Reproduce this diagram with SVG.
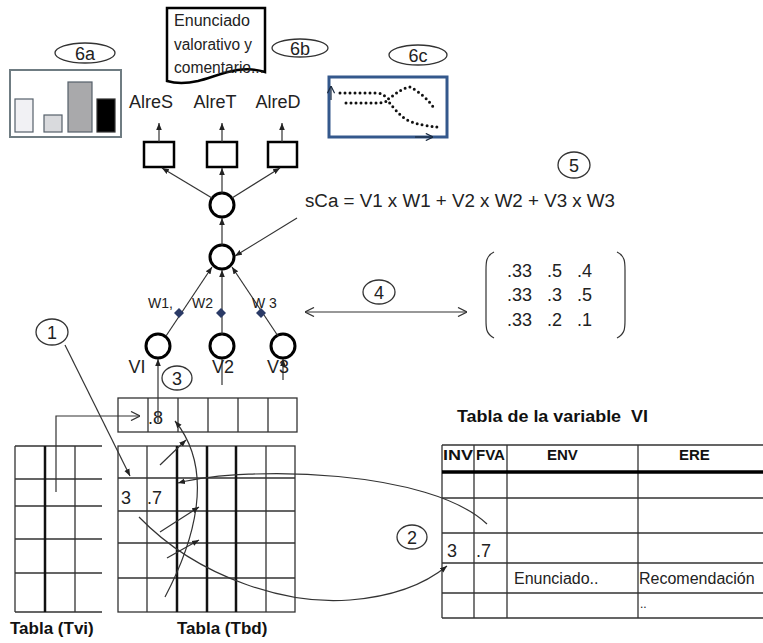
<svg xmlns="http://www.w3.org/2000/svg" width="763" height="643" viewBox="0 0 763 643">
<defs>
<marker id="arr" viewBox="0 0 10 10" refX="10" refY="5" markerWidth="7" markerHeight="7" markerUnits="userSpaceOnUse" orient="auto"><path d="M0,1 L10,5 L0,9 z" fill="#222"/></marker>
<marker id="open" viewBox="0 0 10 10" refX="10" refY="5" markerWidth="10" markerHeight="10" markerUnits="userSpaceOnUse" orient="auto-start-reverse"><path d="M1,0.5 L10,5 L1,9.5" fill="none" stroke="#333" stroke-width="1.3"/></marker>
<marker id="openS" viewBox="0 0 10 10" refX="10" refY="5" markerWidth="8" markerHeight="8" markerUnits="userSpaceOnUse" orient="auto"><path d="M1,0.5 L10,5 L1,9.5" fill="none" stroke="#1a2a40" stroke-width="1.5"/></marker>
</defs>
<style>
.t{font-family:"Liberation Sans",Arial,sans-serif;fill:#222}
.b{font-family:"Liberation Sans",Arial,sans-serif;font-weight:bold;fill:#111}
.ell{fill:#fff;stroke:#333;stroke-width:1.3}
.node{fill:#fff;stroke:#000;stroke-width:3}
.box{fill:#fff;stroke:#000;stroke-width:2.5}
.ln{fill:none;stroke:#333;stroke-width:1.2}
.tk{fill:none;stroke:#111;stroke-width:2.5}
.grid{fill:none;stroke:#333;stroke-width:1.3}
.dot{fill:none;stroke:#111;stroke-width:3;stroke-linecap:round;stroke-dasharray:0 5}
.dia{fill:#2a3a66}
</style>

<!-- 6a chart -->
<g id="chart6a">
<rect x="10" y="70" width="111" height="67" fill="#fff" stroke="#6f7c82" stroke-width="2"/>
<rect x="15" y="99" width="18" height="33" fill="#f1f1f4" stroke="#55606a" stroke-width="1.2"/>
<rect x="44" y="115" width="18" height="17" fill="#d9dadd" stroke="#55606a" stroke-width="1.2"/>
<rect x="68" y="82" width="24" height="50" fill="#a9a9ab" stroke="#55606a" stroke-width="1.2"/>
<rect x="97" y="99" width="18" height="33" fill="#000" stroke="#333" stroke-width="1.2"/>
</g>
<g id="label6a"><ellipse class="ell" cx="85" cy="53" rx="30" ry="10"/><text class="t" x="85" y="59.5" font-size="18" text-anchor="middle">6a</text></g>

<!-- 6b note -->
<g id="note6b">
<path d="M167,8 H265 V72 C240,64 218,76 198,81 C184,84 174,83 167,81 Z" fill="#fff" stroke="#000" stroke-width="2.5"/>
<text class="t" x="174" y="26" font-size="16" textLength="76" lengthAdjust="spacingAndGlyphs">Enunciado</text>
<text class="t" x="174" y="50" font-size="16" textLength="78" lengthAdjust="spacingAndGlyphs">valorativo y</text>
<text class="t" x="174" y="73" font-size="16" textLength="90" lengthAdjust="spacingAndGlyphs">comentario...</text>
</g>
<g id="label6b"><ellipse class="ell" cx="300" cy="48" rx="28" ry="9"/><text class="t" x="300" y="54.5" font-size="18" text-anchor="middle">6b</text></g>

<!-- 6c chart -->
<g id="chart6c">
<rect x="329" y="77" width="118" height="60" fill="#fff" stroke="#34588c" stroke-width="3"/>
<line x1="331" y1="100" x2="331" y2="86" stroke="#1a2a40" stroke-width="1.2" marker-end="url(#openS)"/>
<line x1="415" y1="137" x2="433" y2="137" stroke="#1a2a40" stroke-width="1.2" marker-end="url(#openS)"/>
<path class="dot" d="M340,93 L378,93 C383,94 386,97 389,99 C396,93 403,88 410,87 C420,92 430,101 435,110"/>
<path class="dot" d="M346,103 L380,103 L388,101 C393,107 398,114 407,120 C418,125 428,126 437,127"/>
</g>
<g id="label6c"><ellipse class="ell" cx="418" cy="55" rx="29" ry="10"/><text class="t" x="418" y="61.5" font-size="18" text-anchor="middle">6c</text></g>

<!-- output labels and boxes -->
<g id="outS"><text class="t" x="151" y="108" font-size="18" text-anchor="middle">AlreS</text><rect class="box" x="144" y="142" width="30" height="25"/></g>
<g id="outT"><text class="t" x="215" y="108" font-size="18" text-anchor="middle">AlreT</text><rect class="box" x="207" y="142" width="30" height="25"/></g>
<g id="outD"><text class="t" x="278" y="108" font-size="18" text-anchor="middle">AlreD</text><rect class="box" x="268" y="142" width="29" height="25"/></g>

<!-- neurons -->
<g id="n-out"><circle class="node" cx="222" cy="205" r="12"/></g>
<g id="n-sum"><circle class="node" cx="222" cy="257" r="12"/></g>
<g id="v1"><circle class="node" cx="158" cy="346" r="12"/><text class="t" x="137" y="373" font-size="18" text-anchor="middle">VI</text></g>
<g id="v2"><circle class="node" cx="222" cy="346" r="12"/></g>
<g id="v3"><circle class="node" cx="283" cy="346" r="12"/></g>

<!-- formula -->
<g id="formula"><text class="t" x="305" y="207" font-size="18" textLength="310" lengthAdjust="spacingAndGlyphs">sCa = V1 x W1 + V2 x W2 + V3 x W3</text></g>
<g id="label5"><ellipse class="ell" cx="574" cy="165" rx="16" ry="13"/><text class="t" x="574" y="171.5" font-size="18" text-anchor="middle">5</text></g>

<!-- matrix -->
<g id="matrix">
<path class="ln" d="M494,252 C486,256 486,262 486,270 V320 C486,328 486,334 494,338" stroke-width="1.5"/>
<path class="ln" d="M617,252 C625,256 625,262 625,270 V320 C625,328 625,334 617,338" stroke-width="1.5"/>
<g class="t" font-size="18">
<text x="507" y="277">.33</text><text x="547" y="277">.5</text><text x="577" y="277">.4</text>
<text x="507" y="301">.33</text><text x="547" y="301">.3</text><text x="577" y="301">.5</text>
<text x="507" y="326">.33</text><text x="547" y="326">.2</text><text x="577" y="326">.1</text>
</g>
</g>
<g id="label4"><ellipse class="ell" cx="379" cy="292" rx="16" ry="12"/><text class="t" x="379" y="298.5" font-size="18" text-anchor="middle">4</text></g>
<g id="label1"><ellipse class="ell" cx="52" cy="332" rx="16" ry="13"/><text class="t" x="52" y="338.5" font-size="18" text-anchor="middle">1</text></g>

<!-- vector row -->
<g id="vector">
<rect class="grid" x="118" y="398" width="179" height="34"/>
<path class="grid" d="M148,398 V432 M208,398 V432 M238,398 V432 M268,398 V432"/>
<path class="grid" d="M178,398 V432" stroke-width="1.8"/>
<text class="t" x="148" y="424" font-size="18">.8</text>
</g>

<!-- Tvi -->
<g id="tvi">
<path class="grid" d="M15,446 H102 M15,479 H102 M15,506 H102 M15,539 H102 M15,573 H102 M15,612 H102 M15,446 V612 M75,446 V612"/>
<path class="tk" d="M45,446 V612"/>
<text class="b" x="10" y="634" font-size="17">Tabla (Tvi)</text>
</g>

<!-- Tbd -->
<g id="tbd">
<rect class="grid" x="118" y="446" width="177" height="166"/>
<path class="grid" d="M118,478 H295 M118,511 H295 M118,543 H295 M118,578 H295 M147,446 V612 M266,446 V612"/>
<path class="tk" d="M177,446 V612 M207,446 V612 M236,446 V612"/>
<text class="t" x="121" y="504" font-size="18">3</text>
<text class="t" x="147" y="504" font-size="18">.7</text>
<text class="b" x="177" y="634" font-size="17">Tabla (Tbd)</text>
</g>

<!-- Variable table -->
<g id="tablaVI">
<text class="b" x="457" y="422" font-size="17" textLength="191" lengthAdjust="spacingAndGlyphs">Tabla de la variable&#160; VI</text>
<path class="grid" d="M442,445 H763 M442,498 H763 M442,533 H763 M442,563 H763 M442,593 H763 M442,618 H763 M442,445 V618 M474,445 V618 M507,445 V618 M638,445 V618"/>
<path d="M442,472 H763" stroke="#000" stroke-width="3.5"/>
<g class="b" font-size="15">
<text x="443" y="460" textLength="30" lengthAdjust="spacingAndGlyphs">INV</text>
<text x="476" y="460" textLength="29" lengthAdjust="spacingAndGlyphs">FVA</text>
<text x="547" y="460">ENV</text>
<text x="679" y="460">ERE</text>
</g>
<text class="t" x="447" y="557" font-size="18">3</text>
<text class="t" x="476" y="557" font-size="18">.7</text>
<text class="t" x="514" y="584" font-size="16" fill="#444">Enunciado..</text>
<text class="t" x="639" y="584" font-size="16" fill="#444">Recomendación</text>
<text class="t" x="640" y="608" font-size="12" fill="#777">..</text>
</g>
<g id="label2"><ellipse class="ell" cx="412" cy="537" rx="15" ry="12"/><text class="t" x="412" y="543.5" font-size="18" text-anchor="middle">2</text></g>
<g id="label3"><ellipse class="ell" cx="177" cy="378" rx="15" ry="12"/><text class="t" x="177" y="384.5" font-size="18" text-anchor="middle">3</text></g>

<!-- connectors -->
<g id="connectors">
<line class="ln" x1="159" y1="142" x2="159" y2="123" marker-end="url(#arr)"/>
<line class="ln" x1="222" y1="142" x2="222" y2="123" marker-end="url(#arr)"/>
<line class="ln" x1="282" y1="142" x2="282" y2="123" marker-end="url(#arr)"/>
<line class="ln" x1="212" y1="198" x2="162" y2="168" marker-end="url(#arr)"/>
<line class="ln" x1="222" y1="193" x2="222" y2="168" marker-end="url(#arr)"/>
<line class="ln" x1="232" y1="198" x2="280" y2="168" marker-end="url(#arr)"/>
<line class="ln" x1="222" y1="245" x2="222" y2="218" marker-end="url(#arr)"/>
<line class="ln" x1="297" y1="218" x2="235" y2="256" marker-end="url(#arr)"/>
<line class="ln" x1="166" y1="336" x2="212" y2="267" marker-end="url(#arr)"/>
<line class="ln" x1="222" y1="334" x2="222" y2="270" marker-end="url(#arr)"/>
<line class="ln" x1="278" y1="336" x2="232" y2="267" marker-end="url(#arr)"/>
<path class="dia" d="M179,308 L184,313 L179,318 L174,313 Z"/>
<path class="dia" d="M221,308 L226,313 L221,318 L216,313 Z"/>
<path class="dia" d="M261,308 L266,313 L261,318 L256,313 Z"/>
<line class="ln" x1="305" y1="312" x2="467" y2="312" marker-start="url(#open)" marker-end="url(#open)"/>
<line class="ln" x1="158" y1="422" x2="158" y2="359" marker-end="url(#arr)"/>
<line class="ln" x1="222" y1="385" x2="222" y2="359"/>
<line class="ln" x1="283" y1="380" x2="283" y2="359" marker-end="url(#arr)"/>
<path class="ln" d="M56,492 V416 H140" marker-end="url(#open)"/>
<line class="ln" x1="65" y1="345" x2="130" y2="476" marker-end="url(#arr)"/>
<line class="ln" x1="160" y1="465" x2="186" y2="440" marker-end="url(#arr)"/>
<path class="ln" d="M165,597 C195,540 215,470 175,421" marker-end="url(#arr)"/>
<line class="ln" x1="160" y1="532" x2="199" y2="507" marker-end="url(#arr)"/>
<line class="ln" x1="167" y1="558" x2="199" y2="540" marker-end="url(#arr)"/>
<path class="ln" d="M139,517 C200,580 290,605 350,600 C400,596 430,580 447,566" marker-end="url(#arr)"/>
<path class="ln" d="M487,524 C430,470 250,465 178,483" marker-end="url(#arr)"/>
</g>

<!-- W labels and V labels (over lines) -->
<g id="wlabels" class="t" font-size="14" fill="#333">
<text x="148" y="308">W1,</text>
<text x="192" y="308">W2</text>
<text x="252" y="308">W 3</text>
</g>
<g id="vlabels" class="t" font-size="18">
<text x="223" y="373" text-anchor="middle">V2</text>
<text x="278" y="373" text-anchor="middle">V3</text>
</g>
</svg>
